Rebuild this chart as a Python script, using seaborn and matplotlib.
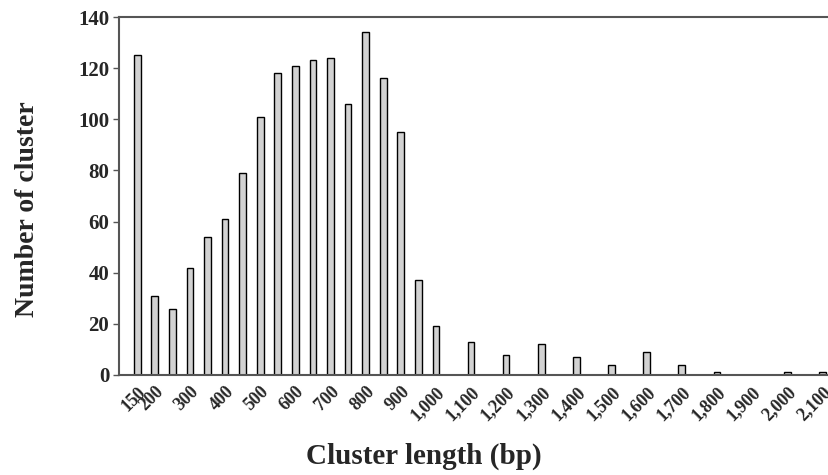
import matplotlib
matplotlib.use("Agg")
import matplotlib.pyplot as plt
import seaborn as sns
import pandas as pd

# cluster length bins (bp) and number of clusters in each
lengths = [150, 200, 250, 300, 350, 400, 450, 500, 550, 600, 650, 700, 750,
           800, 850, 900, 950, 1000,
           1100, 1200, 1300, 1400, 1500, 1600, 1700, 1800, 1900, 2000, 2100]
counts = [125, 31, 26, 42, 54, 61, 79, 101, 118, 121, 123, 124, 106,
          134, 116, 95, 37, 19,
          13, 8, 12, 7, 4, 9, 4, 1, 0, 1, 1]

tick_values = [150, 200, 300, 400, 500, 600, 700, 800, 900, 1000,
               1100, 1200, 1300, 1400, 1500, 1600, 1700, 1800, 1900, 2000, 2100]
tick_labels = [f"{v:,}" for v in tick_values]

df = pd.DataFrame({"length": lengths, "count": counts})

sns.set_style("white")
plt.rcParams["font.family"] = ["Liberation Serif", "DejaVu Serif"]
plt.rcParams["font.weight"] = "bold"

fig = plt.figure(figsize=(8.29, 4.75), dpi=100)
ax = fig.add_axes([119 / 829, 100 / 475, 710 / 829, 358 / 475])

sns.barplot(data=df, x="length", y="count", native_scale=True, width=0.38,
            color="#d2d2d2", edgecolor="black", linewidth=1.0, saturation=1,
            ax=ax)

ax.set_xlim(98, 2119)
ax.set_ylim(0, 140)
ax.set_yticks(range(0, 141, 20))
ax.set_xticks(tick_values)
ax.set_xticklabels(tick_labels, rotation=45, ha="right", rotation_mode="anchor",
                   fontsize=13, fontweight="bold")
ax.tick_params(axis="x", length=0, pad=6)
ax.tick_params(axis="y", length=4, width=1, direction="out", left=True,
               labelsize=15, pad=3, color="#555555")
for lab in ax.get_yticklabels():
    lab.set_fontweight("bold")

for side in ["left", "bottom", "top"]:
    ax.spines[side].set_visible(True)
    ax.spines[side].set_color("#555555")
    ax.spines[side].set_linewidth(1.5)
ax.spines["right"].set_visible(False)

ax.set_xlabel("Cluster length (bp)", fontsize=21, fontweight="bold")
ax.set_ylabel("Number of cluster", fontsize=20, fontweight="bold")
# label centres (in pixels)
ax.xaxis.set_label_coords((424 - 119) / 710, -(456 - 375) / 358)
ax.yaxis.set_label_coords(-(119 - 28) / 710, (375 - 209) / 358)
ax.xaxis.label.set_va("center")
ax.yaxis.label.set_va("center")

fig.savefig("out.png", dpi=100)
